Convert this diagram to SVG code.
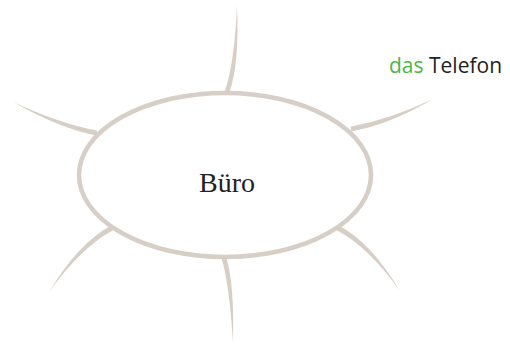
<svg xmlns="http://www.w3.org/2000/svg" width="510" height="352" viewBox="0 0 510 352">
<style>
.spoke{fill:#d7cfc6;stroke:none}
.hub{fill:#ffffff;stroke:#d7cfc6;stroke-width:4.5}
.main{font-family:"Liberation Serif","DejaVu Serif",serif;font-size:28px;fill:#222}
.lbl{font-family:"Open Sans","Liberation Sans",sans-serif;font-size:21px;fill:#222}
.art{fill:#4cb848}
</style>
<rect width="510" height="352" fill="#ffffff"/>
<g id="connectors">
<path class="spoke" d="M224.5,92 Q234.5,64 237,5 Q239.5,64 229.5,92 Z"/>
<path class="spoke" d="M97,130.5 Q62,124.5 13,102 Q62,129.5 97,135.5 Z"/>
<path class="spoke" d="M351,126.5 Q390,119.5 433,99 Q390,124.5 351,131.5 Z"/>
<path class="spoke" d="M110.8,225.8 Q78.8,242.8 49,292 Q81.2,247.2 113.2,230.2 Z"/>
<path class="spoke" d="M339.2,225.8 Q371.2,242.8 400,291 Q368.8,247.2 336.8,230.2 Z"/>
<path class="spoke" d="M221.5,258 Q229.5,285 233,343 Q234.5,285 226.5,258 Z"/>
</g>
<g id="center">
<ellipse class="hub" cx="225" cy="175" rx="146" ry="82"/>
<text class="main" x="227" y="192" text-anchor="middle">Büro</text>
</g>
<g id="telefon">
<text class="lbl" x="389" y="73"><tspan class="art">das</tspan> Telefon</text>
</g>
</svg>
